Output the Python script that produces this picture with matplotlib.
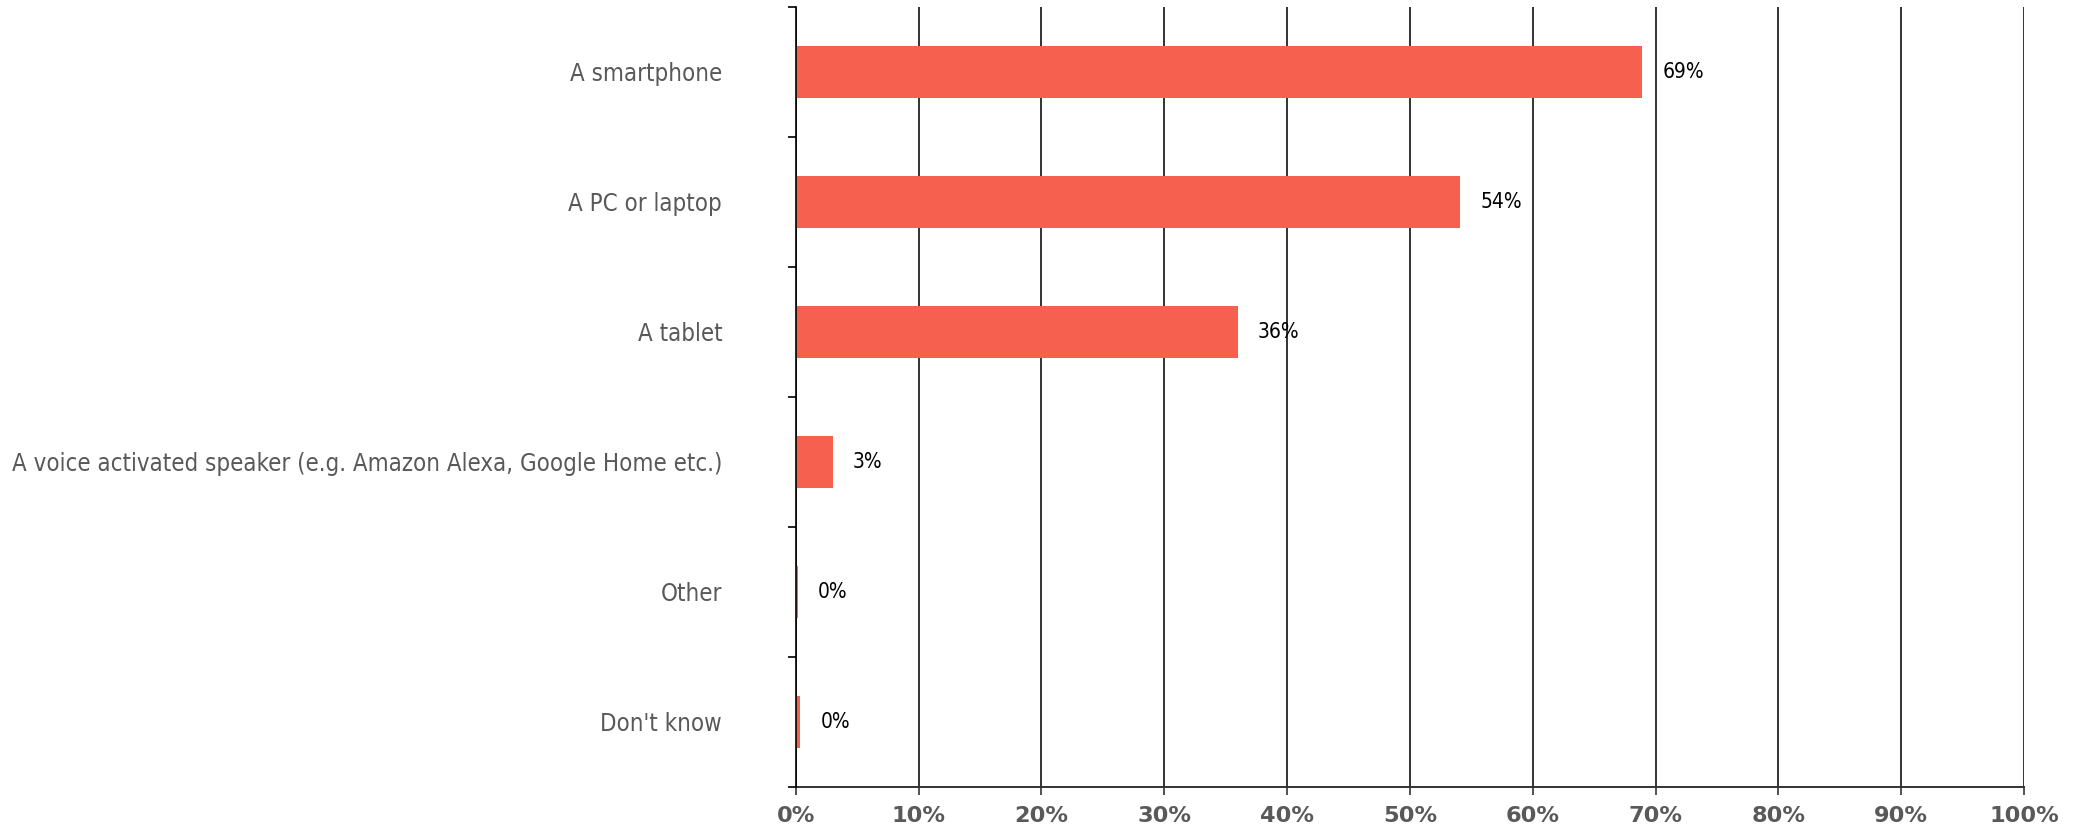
import matplotlib.pyplot as plt
import numpy as np

# survey answers, top to bottom
categories = ["A smartphone", "A PC or laptop", "A tablet",
              "A voice activated speaker (e.g. Amazon Alexa, Google Home etc.)",
              "Other", "Don't know"]
values = [68.9, 54.1, 36.0, 3.0, 0.16, 0.38]
labels = ["69%", "54%", "36%", "3%", "0%", "0%"]
x_ticks = [0, 10, 20, 30, 40, 50, 60, 70, 80, 90, 100]
x_tick_labels = [str(t) + "%" for t in x_ticks]

fig = plt.figure(figsize=(20.8, 8.31), dpi=100)
ax = fig.add_axes([0.3826, 0.0533, 0.5905, 0.9383])

y = np.arange(len(categories))
ax.barh(y, values, height=0.4, color="#F6604E", zorder=3)

# value labels to the right of each bar
for yi, v, lab in zip(y, values, labels):
    ax.annotate(lab, (v, yi), xytext=(14.5, 0), textcoords="offset points",
                va="center", ha="left", fontsize=15, color="black",
                fontstretch="condensed")

ax.set_xlim(0, 100)
ax.set_ylim(len(categories) - 0.5, -0.5)

# vertical grid lines
ax.set_xticks(x_ticks)
ax.set_xticklabels(x_tick_labels, fontsize=16.2, fontweight="bold", color="#595959")
ax.xaxis.grid(True, color="#333333", linewidth=1.4, zorder=0)
ax.tick_params(axis="x", length=6, width=1.2, color="#333333", pad=8)

# category labels at centres, tick marks at boundaries
ax.set_yticks(y)
ax.set_yticklabels(categories, fontsize=17.2, color="#595959", fontstretch="condensed")
ax.tick_params(axis="y", which="major", length=0, pad=53)
ax.set_yticks(np.arange(-0.5, len(categories), 1), minor=True)
ax.tick_params(axis="y", which="minor", length=6, width=1.2, color="black")

for s in ["top", "right"]:
    ax.spines[s].set_visible(False)
ax.spines["left"].set_linewidth(1.2)
ax.spines["left"].set_zorder(4)
ax.spines["bottom"].set_linewidth(1.4)
ax.spines["bottom"].set_color("#333333")

plt.savefig("out.png", dpi=100)
